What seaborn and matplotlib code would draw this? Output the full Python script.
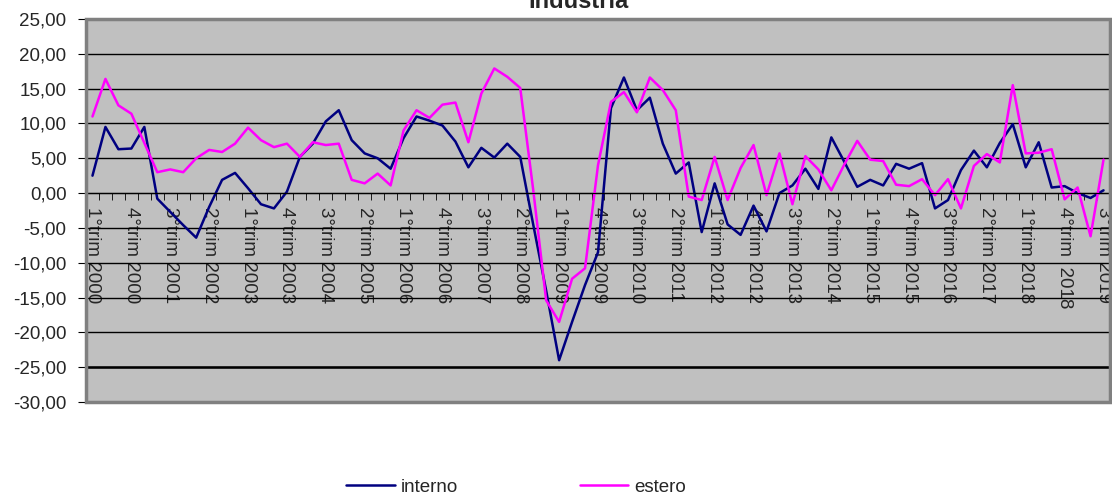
import pandas as pd
import seaborn as sns
import matplotlib.pyplot as plt
from matplotlib.patches import Rectangle
from matplotlib.ticker import FuncFormatter, FixedLocator

# quarters Q1 2000 .. Q3 2019
years = list(range(2000, 2020))
quarters = [f"{q}°trim {y}" for y in years for q in range(1, 5)][:79]

interno = [2.5, 9.5, 6.3, 6.4, 9.5, -0.8, -2.7, -4.6, -6.4, -2.0,
           1.9, 2.9, 0.7, -1.6, -2.2, 0.2, 5.2, 7.1, 10.3, 11.9,
           7.6, 5.7, 5.0, 3.5, 7.9, 11.0, 10.4, 9.7, 7.4, 3.7,
           6.5, 5.1, 7.1, 5.2, -4.5, -14.0, -24.0, -18.5, -13.2, -8.5,
           12.2, 16.6, 11.9, 13.7, 7.1, 2.8, 4.4, -5.6, 1.4, -4.5,
           -6.0, -1.8, -5.5, 0.0, 1.1, 3.5, 0.6, 8.0, 4.5, 0.9,
           1.9, 1.1, 4.2, 3.5, 4.3, -2.2, -1.0, 3.3, 6.1, 3.7,
           7.2, 9.9, 3.7, 7.3, 0.8, 1.0, 0.0, -0.7, 0.4]

estero = [11.0, 16.4, 12.6, 11.4, 7.2, 3.0, 3.4, 3.0, 5.0, 6.2,
          5.9, 7.1, 9.4, 7.6, 6.6, 7.1, 5.2, 7.3, 6.9, 7.1,
          1.9, 1.4, 2.8, 1.1, 9.0, 11.9, 10.8, 12.7, 13.0, 7.3,
          14.3, 17.9, 16.7, 15.1, 0.5, -15.4, -18.5, -12.3, -10.8, 4.0,
          13.1, 14.5, 11.6, 16.6, 14.8, 11.9, -0.5, -1.0, 5.2, -1.0,
          3.6, 6.9, -0.3, 5.7, -1.6, 5.3, 3.4, 0.4, 4.1, 7.5,
          4.8, 4.6, 1.2, 1.0, 2.0, -0.3, 2.0, -2.2, 3.9, 5.6,
          4.4, 15.5, 5.7, 5.8, 6.3, -0.9, 0.8, -6.2, 4.8]

tick_labels = quarters[::3]
tick_labels[tick_labels.index("4°trim 2018")] = "4°trim  2018"

df = pd.DataFrame({
    'pos': list(range(len(quarters))) * 2,
    'valore': interno + estero,
    'serie': ['interno'] * len(interno) + ['estero'] * len(estero),
})

sns.set_style('white')
plt.rcParams['font.family'] = ['Liberation Sans', 'DejaVu Sans']

fig = plt.figure(figsize=(11.12, 4.95), dpi=100)
ax = fig.add_axes([86 / 1112, 1 - 402 / 495, 1024 / 1112, 383 / 495])
ax.set_facecolor('#C0C0C0')

sns.lineplot(data=df, x='pos', y='valore', hue='serie',
             palette={'interno': '#000080', 'estero': '#FF00FF'},
             linewidth=1.8, ax=ax, legend=False)

ax.set_xlim(-0.5, len(quarters) - 0.5)
ax.set_ylim(-30, 25)
ax.set_yticks(range(-30, 26, 5))
ax.yaxis.set_major_formatter(FuncFormatter(lambda v, p: f"{v:.2f}".replace('.', ',')))
ax.set_axisbelow(True)
ax.grid(axis='y', color='black', linewidth=1)
ax.grid(axis='x', visible=False)
ax.axhline(-25, color='black', linewidth=1.8, zorder=0.6)

# category axis crossing at zero
for s in ['top', 'right']:
    ax.spines[s].set_visible(False)
ax.spines['bottom'].set_position(('data', 0))
ax.spines['bottom'].set_color('black')
ax.spines['left'].set_color('black')
ax.spines['left'].set_linewidth(1.2)
ax.add_patch(Rectangle((0, 0), 1, 1, transform=ax.transAxes, fill=False,
                       edgecolor='#808080', linewidth=2.5, clip_on=False, zorder=3))

ax.set_xticks(range(0, len(quarters), 3))
ax.set_xticklabels(tick_labels, rotation=270, fontsize=13.5, va='top', ha='center')
ax.xaxis.set_minor_locator(FixedLocator([i - 0.5 for i in range(len(quarters) + 1)]))
ax.tick_params(axis='x', which='major', length=0, pad=10)
ax.tick_params(axis='x', which='minor', length=5, direction='out', color='black', bottom=True)
ax.tick_params(axis='y', which='major', length=6, direction='out', color='black',
               labelsize=13.5, pad=8, left=True)
ax.set_xlabel('')
ax.set_ylabel('')

fig.text(579 / 1112, 1 - 8 / 495, 'Industria', ha='center', va='baseline',
         fontsize=17, fontweight='bold')

handles = [plt.Line2D([], [], color='#000080', linewidth=1.8),
           plt.Line2D([], [], color='#FF00FF', linewidth=1.8)]
fig.legend(handles, ['interno', 'estero'], loc='center', ncol=2, frameon=False,
           bbox_to_anchor=(0.464, 0.016), fontsize=13.5, handlelength=2.6,
           columnspacing=6.5, handletextpad=0.3)

fig.savefig('out.png', dpi=100)
